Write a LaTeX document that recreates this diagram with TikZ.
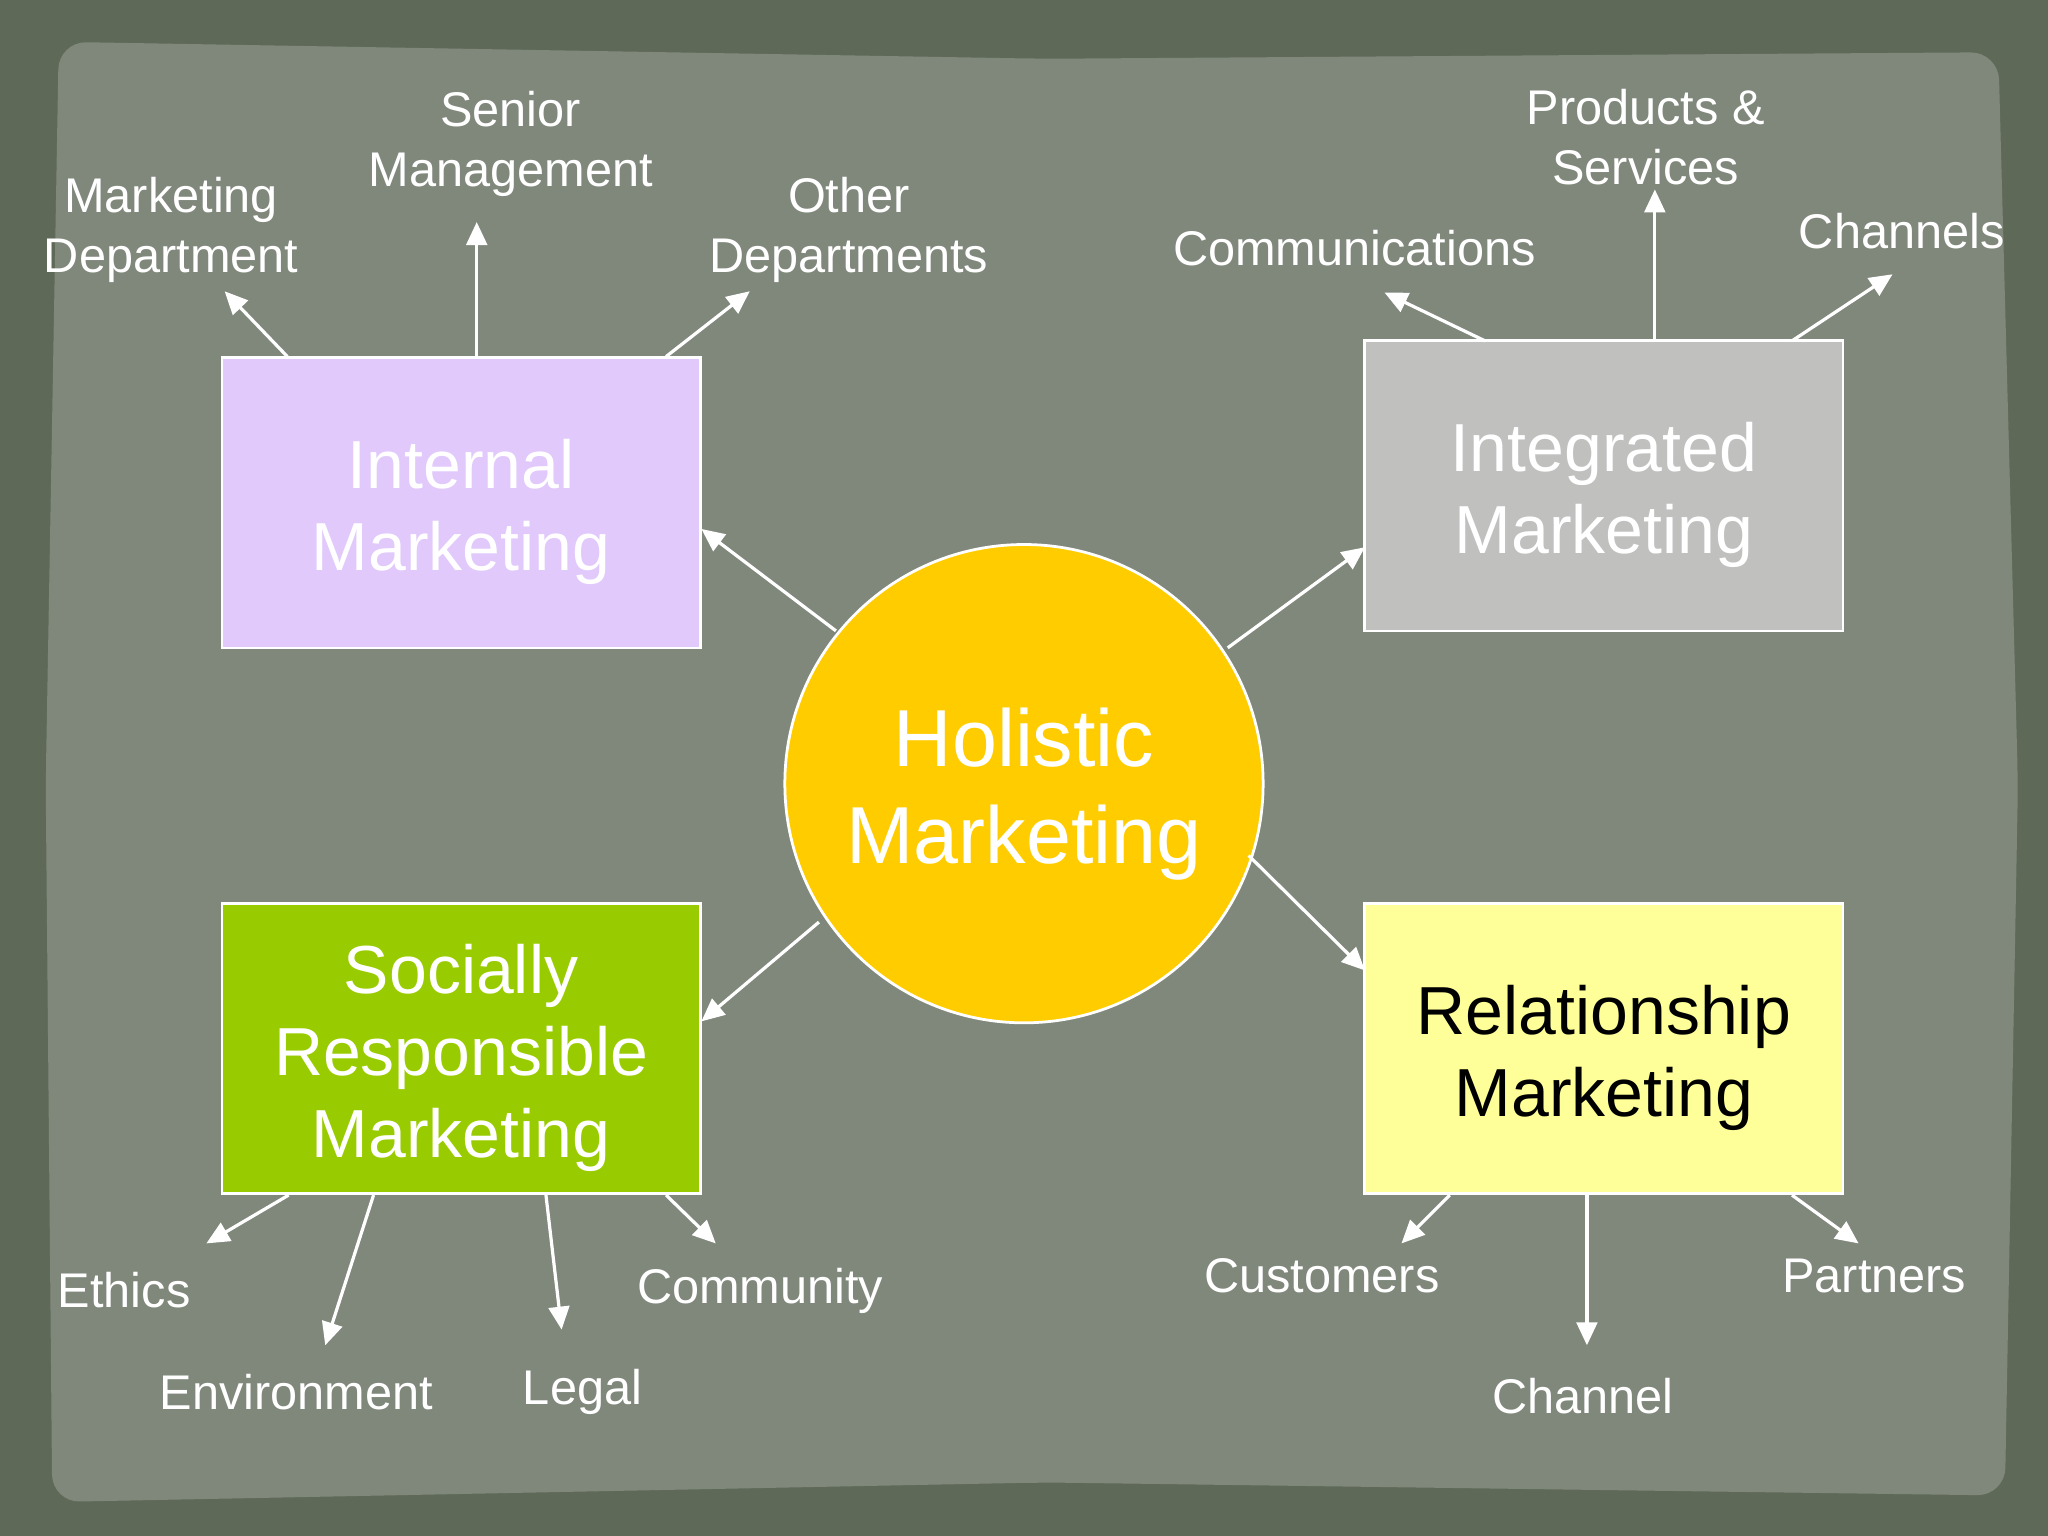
\documentclass[tikz,border=0pt]{standalone}
\usepackage{fontspec}
\setmainfont{Liberation Sans}
\usetikzlibrary{arrows.meta}
\definecolor{outerbg}{HTML}{5E6A57}
\definecolor{paper}{HTML}{80887C}
\definecolor{lav}{HTML}{E1C9FB}
\definecolor{greyb}{HTML}{C0C1BF}
\definecolor{greenb}{HTML}{99CC00}
\definecolor{yelb}{HTML}{FFFF99}
\definecolor{gold}{HTML}{FFCC00}
\tikzset{
  box/.style={draw=white, line width=0.6pt, minimum width=3.66cm, minimum height=2.22cm},
  btxt/.style={align=center, font=\fontsize{14.8}{17.8}\selectfont, text=white},
  lbl/.style={text=white, align=center, font=\fontsize{10.6}{13}\selectfont},
  arr/.style={draw=white, line width=0.7pt, -{Triangle[length=5pt,width=4.5pt]}}
}
\begin{document}
\begin{tikzpicture}[x=0.01cm,y=-0.01cm]
\useasboundingbox (0,0) rectangle (1568,1176);
\fill[outerbg] (0,0) rectangle (1568,1176);
\fill[paper, rounded corners=6pt] (45,32) -- (800,45) -- (1530,40) -- (1545,600) -- (1535,1145) -- (800,1135) -- (40,1150) -- (35,600) -- cycle;
% boxes
\node[box, fill=lav] (im) at (353,385) {};
\node[btxt] (imt) at (353,392) {Internal\\Marketing};
\node[box, fill=greyb] (ig) at (1228,372) {};
\node[btxt] (igt) at (1228,379) {Integrated\\Marketing};
\node[box, fill=greenb] (sr) at (353,803) {};
\node[btxt] (srt) at (353,810) {Socially\\Responsible\\Marketing};
\node[box, fill=yelb] (rm) at (1228,803) {};
\node[btxt, text=black] (rmt) at (1228,810) {Relationship\\Marketing};
\node[circle, draw=white, line width=0.6pt, fill=gold, minimum size=3.66cm] (hm) at (784,600) {};
\node[align=center, text=white, font=\fontsize{17.6}{21}\selectfont] (hmt) at (784,608) {Holistic\\Marketing};
% center arrows
\coordinate (c1) at (640,483); \coordinate (t1) at (537,405);
\coordinate (c2) at (940,496); \coordinate (t2) at (1045,419);
\coordinate (c3) at (627,706); \coordinate (t3) at (537,782);
\coordinate (c4) at (956,655); \coordinate (t4) at (1045,743);
\draw[arr] (c1) -- (t1); \draw[arr] (c2) -- (t2);
\draw[arr] (c3) -- (t3); \draw[arr] (c4) -- (t4);
% labels
\node[lbl] (md) at (131,176) {Marketing\\Department};
\node[lbl] (sm) at (391,110) {Senior\\Management};
\node[lbl] (od) at (650,176) {Other\\Departments};
\node[lbl] (co) at (1037,190) {Communications};
\node[lbl] (ps) at (1260,105) {Products \&\\Services};
\node[lbl] (ch) at (1456,177) {Channels};
\node[lbl] (et) at (95,988) {Ethics};
\node[lbl] (en) at (227,1066) {Environment};
\node[lbl] (le) at (446,1066) {Legal};
\node[lbl] (cm) at (582,988) {Community};
\node[lbl] (cu) at (1012,977) {Customers};
\node[lbl] (cn) at (1212,1069) {Channel};
\node[lbl] (pa) at (1435,977) {Partners};
% sub arrows
\foreach \a/\b/\c/\d in {220/273/172/223, 365/273/365/170, 510/273/574/223,
  1137/261/1060/224, 1267/261/1267/145, 1372/261/1449/210,
  221/915/158/952, 286/915/249/1030, 418/915/430/1018, 510/915/548/952,
  1110/915/1073/952, 1215/915/1215/1030, 1372/915/1423/952}
  {\coordinate (s) at (\a,\b); \coordinate (e) at (\c,\d); \draw[arr] (s) -- (e);}
\end{tikzpicture}
\end{document}
